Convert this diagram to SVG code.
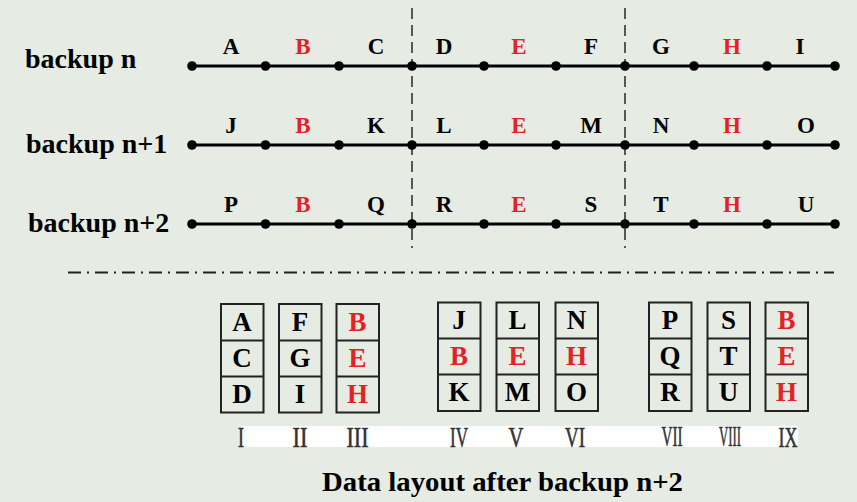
<svg xmlns="http://www.w3.org/2000/svg" width="857" height="502" viewBox="0 0 857 502">
<style>
.bg{fill:#e6ebe3}
.lbl{font-family:"Liberation Serif","Times New Roman",serif;font-weight:bold;font-size:28px;fill:#000}
.let{font-family:"Liberation Serif","Times New Roman",serif;font-weight:bold;font-size:23px;text-anchor:middle;fill:#000}
.bl{font-family:"Liberation Serif","Times New Roman",serif;font-weight:bold;font-size:27px;text-anchor:middle;fill:#000}
.red{fill:#e32228}
.line{stroke:#000;stroke-width:3}
.dot{fill:#000}
.vdash{stroke:#333;stroke-width:1.6;stroke-dasharray:11 6;fill:none}
.hdash{stroke:#222;stroke-width:2;stroke-dasharray:13 6 2 6;fill:none}
.box{fill:none;stroke:#222;stroke-width:2}
.rom{font-family:"Liberation Serif","Times New Roman",serif;font-size:30px;text-anchor:middle;fill:#333;stroke:#333;stroke-width:0.6}
</style>
<rect class="bg" x="0" y="0" width="857" height="502"/>

<g id="labels">
<text class="lbl" x="25" y="68">backup n</text>
<text class="lbl" x="26" y="153">backup n+1</text>
<text class="lbl" x="28" y="232">backup n+2</text>
</g>

<g id="connectors">
<line class="vdash" x1="412" y1="8" x2="412" y2="248"/>
<line class="vdash" x1="625" y1="8" x2="625" y2="248"/>
<line class="line" x1="192" y1="66" x2="835" y2="66"/>
<line class="line" x1="192" y1="145" x2="835" y2="145"/>
<line class="line" x1="192" y1="224" x2="835" y2="224"/>
<line class="hdash" x1="68" y1="272.5" x2="834" y2="272.5"/>
</g>

<g id="dots">
<g id="dots-row1">
<circle class="dot" cx="192" cy="66" r="4.8"/><circle class="dot" cx="265.5" cy="66" r="4.8"/><circle class="dot" cx="339" cy="66" r="4.8"/><circle class="dot" cx="412" cy="66" r="4.8"/><circle class="dot" cx="484" cy="66" r="4.8"/><circle class="dot" cx="556" cy="66" r="4.8"/><circle class="dot" cx="625" cy="66" r="4.8"/><circle class="dot" cx="694" cy="66" r="4.8"/><circle class="dot" cx="767" cy="66" r="4.8"/><circle class="dot" cx="835" cy="66" r="4.8"/>
</g>
<g id="dots-row2">
<circle class="dot" cx="192" cy="145" r="4.8"/><circle class="dot" cx="265.5" cy="145" r="4.8"/><circle class="dot" cx="339" cy="145" r="4.8"/><circle class="dot" cx="412" cy="145" r="4.8"/><circle class="dot" cx="484" cy="145" r="4.8"/><circle class="dot" cx="556" cy="145" r="4.8"/><circle class="dot" cx="625" cy="145" r="4.8"/><circle class="dot" cx="694" cy="145" r="4.8"/><circle class="dot" cx="767" cy="145" r="4.8"/><circle class="dot" cx="835" cy="145" r="4.8"/>
</g>
<g id="dots-row3">
<circle class="dot" cx="192" cy="224" r="4.8"/><circle class="dot" cx="265.5" cy="224" r="4.8"/><circle class="dot" cx="339" cy="224" r="4.8"/><circle class="dot" cx="412" cy="224" r="4.8"/><circle class="dot" cx="484" cy="224" r="4.8"/><circle class="dot" cx="556" cy="224" r="4.8"/><circle class="dot" cx="625" cy="224" r="4.8"/><circle class="dot" cx="694" cy="224" r="4.8"/><circle class="dot" cx="767" cy="224" r="4.8"/><circle class="dot" cx="835" cy="224" r="4.8"/>
</g>
</g>

<g id="segment-letters">
<text class="let" x="231" y="54">A</text><text class="let red" x="303" y="54">B</text><text class="let" x="376" y="54">C</text>
<text class="let" x="444" y="54">D</text><text class="let red" x="519" y="54">E</text><text class="let" x="591" y="54">F</text>
<text class="let" x="661" y="54">G</text><text class="let red" x="732" y="54">H</text><text class="let" x="800" y="54">I</text>
<text class="let" x="231" y="133">J</text><text class="let red" x="303" y="133">B</text><text class="let" x="376" y="133">K</text>
<text class="let" x="444" y="133">L</text><text class="let red" x="519" y="133">E</text><text class="let" x="591" y="133">M</text>
<text class="let" x="661" y="133">N</text><text class="let red" x="732" y="133">H</text><text class="let" x="806" y="133">O</text>
<text class="let" x="231" y="212">P</text><text class="let red" x="303" y="212">B</text><text class="let" x="376" y="212">Q</text>
<text class="let" x="444" y="212">R</text><text class="let red" x="519" y="212">E</text><text class="let" x="591" y="212">S</text>
<text class="let" x="661" y="212">T</text><text class="let red" x="732" y="212">H</text><text class="let" x="806" y="212">U</text>
</g>

<rect x="241" y="426" width="557" height="21" fill="#ffffff"/>

<g id="box1">
<rect class="box" x="221" y="304" width="42.5" height="108.5"/>
<line class="box" x1="221" y1="340.5" x2="263.5" y2="340.5"/><line class="box" x1="221" y1="376.5" x2="263.5" y2="376.5"/>
<text class="bl" x="242" y="331">A</text><text class="bl" x="242" y="367">C</text><text class="bl" x="242" y="403">D</text>
<text class="rom" x="241" y="447" textLength="6" lengthAdjust="spacingAndGlyphs">I</text>
</g>
<g id="box2">
<rect class="box" x="279" y="304" width="42.5" height="108.5"/>
<line class="box" x1="279" y1="340.5" x2="321.5" y2="340.5"/><line class="box" x1="279" y1="376.5" x2="321.5" y2="376.5"/>
<text class="bl" x="300" y="331">F</text><text class="bl" x="300" y="367">G</text><text class="bl" x="300" y="403">I</text>
<text class="rom" x="300" y="447" textLength="15" lengthAdjust="spacingAndGlyphs">II</text>
</g>
<g id="box3">
<rect class="box" x="336.5" y="304" width="42.5" height="108.5"/>
<line class="box" x1="336.5" y1="340.5" x2="379" y2="340.5"/><line class="box" x1="336.5" y1="376.5" x2="379" y2="376.5"/>
<text class="bl red" x="357.5" y="331">B</text><text class="bl red" x="357.5" y="367">E</text><text class="bl red" x="357.5" y="403">H</text>
<text class="rom" x="357.5" y="447" textLength="22" lengthAdjust="spacingAndGlyphs">III</text>
</g>
<g id="box4">
<rect class="box" x="438" y="302.5" width="42.5" height="108.5"/>
<line class="box" x1="438" y1="338.5" x2="480.5" y2="338.5"/><line class="box" x1="438" y1="374.5" x2="480.5" y2="374.5"/>
<text class="bl" x="459" y="329">J</text><text class="bl red" x="459" y="365">B</text><text class="bl" x="459" y="401">K</text>
<text class="rom" x="459" y="447" textLength="18" lengthAdjust="spacingAndGlyphs">IV</text>
</g>
<g id="box5">
<rect class="box" x="496.5" y="302.5" width="42.5" height="108.5"/>
<line class="box" x1="496.5" y1="338.5" x2="539" y2="338.5"/><line class="box" x1="496.5" y1="374.5" x2="539" y2="374.5"/>
<text class="bl" x="517.5" y="329">L</text><text class="bl red" x="517.5" y="365">E</text><text class="bl" x="517.5" y="401">M</text>
<text class="rom" x="516" y="447" textLength="15" lengthAdjust="spacingAndGlyphs">V</text>
</g>
<g id="box6">
<rect class="box" x="555.5" y="302.5" width="42.5" height="108.5"/>
<line class="box" x1="555.5" y1="338.5" x2="598" y2="338.5"/><line class="box" x1="555.5" y1="374.5" x2="598" y2="374.5"/>
<text class="bl" x="576.5" y="329">N</text><text class="bl red" x="576.5" y="365">H</text><text class="bl" x="576.5" y="401">O</text>
<text class="rom" x="575" y="447" textLength="20" lengthAdjust="spacingAndGlyphs">VI</text>
</g>
<g id="box7">
<rect class="box" x="649" y="302.5" width="42.5" height="108.5"/>
<line class="box" x1="649" y1="338.5" x2="691.5" y2="338.5"/><line class="box" x1="649" y1="374.5" x2="691.5" y2="374.5"/>
<text class="bl" x="670" y="329">P</text><text class="bl" x="670" y="365">Q</text><text class="bl" x="670" y="401">R</text>
<text class="rom" x="672" y="446" textLength="21" lengthAdjust="spacingAndGlyphs">VII</text>
</g>
<g id="box8">
<rect class="box" x="707.5" y="302.5" width="42.5" height="108.5"/>
<line class="box" x1="707.5" y1="338.5" x2="750" y2="338.5"/><line class="box" x1="707.5" y1="374.5" x2="750" y2="374.5"/>
<text class="bl" x="728.5" y="329">S</text><text class="bl" x="728.5" y="365">T</text><text class="bl" x="728.5" y="401">U</text>
<text class="rom" x="730" y="446" textLength="22" lengthAdjust="spacingAndGlyphs">VIII</text>
</g>
<g id="box9">
<rect class="box" x="765.5" y="302.5" width="42.5" height="108.5"/>
<line class="box" x1="765.5" y1="338.5" x2="808" y2="338.5"/><line class="box" x1="765.5" y1="374.5" x2="808" y2="374.5"/>
<text class="bl red" x="786.5" y="329">B</text><text class="bl red" x="786.5" y="365">E</text><text class="bl red" x="786.5" y="401">H</text>
<text class="rom" x="788" y="447" textLength="19" lengthAdjust="spacingAndGlyphs">IX</text>
</g>

<g id="title">
<text class="lbl" x="322" y="491" textLength="361" lengthAdjust="spacingAndGlyphs">Data layout after backup n+2</text>
</g>
</svg>
